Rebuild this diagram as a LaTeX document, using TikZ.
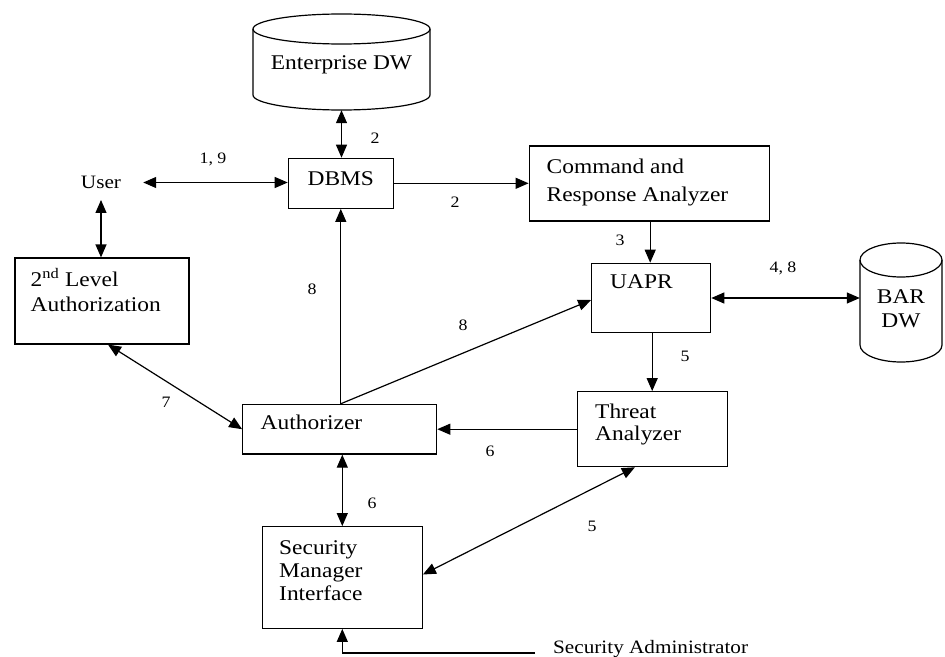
\documentclass[tikz,border=0pt]{standalone}
\usepackage{fontspec}
\setmainfont{Liberation Serif}[FakeStretch=1.12]
\usetikzlibrary{arrows.meta,calc}
\newcommand\bxfont{\fontsize{21}{24}\selectfont}
\newcommand\lbfont{\fontsize{16}{18}\selectfont}
\newcommand\smfont{\fontsize{19}{22}\selectfont}
\begin{document}
\begin{tikzpicture}[x=1bp,y=-1bp,
  every node/.style={inner sep=0pt},
  ln/.style={line width=1.2bp},
  box/.style={draw, line width=1.2bp},
  bx/.style={font=\bxfont},
  num/.style={font=\lbfont},
  tip/.tip={Triangle[length=13bp,width=11bp]},
  arr/.style={ln, -tip},
  darr/.style={ln, tip-tip}]
\fill[white] (0,0) rectangle (945,657);
\useasboundingbox (0,0) rectangle (945,657);

% Enterprise DW cylinder
\draw[ln] (253,29) -- (253,95) arc[start angle=180,end angle=360,x radius=88.5bp,y radius=15bp] -- (430,29);
\draw[ln] (341.5,29) ellipse [x radius=88.5bp,y radius=15bp];
\node[bx, minimum width=177bp, minimum height=90bp] (edw) at (341.5,65) {Enterprise DW};

% BAR DW cylinder
\draw[ln] (860,260) -- (860,345) arc[start angle=180,end angle=360,x radius=41bp,y radius=17bp] -- (942,260);
\draw[ln] (901,260) ellipse [x radius=41bp,y radius=17bp];
\node[bx, align=center, minimum width=82bp, minimum height=100bp] (bar) at (901,309) {BAR\\DW};

% boxes
\node[box, bx, minimum width=105bp, minimum height=50bp, text height=14bp, text depth=9bp] (dbms) at (340.8,183.3) {DBMS};
\node[box, minimum width=240bp, minimum height=75bp] (cra) at (649.2,183.5) {};
\node[bx, align=left, anchor=west, font=\fontsize{21}{28}\selectfont] (crat) at (546.5,182.8) {Command and\\Response Analyzer};
\node[box, minimum width=119bp, minimum height=69.4bp] (uapr) at (651.2,298) {};
\node[bx, anchor=west] (uaprt) at (610,281.7) {UAPR};
\node[box, minimum width=150.4bp, minimum height=75bp] (ta) at (652.5,429.2) {};
\node[bx, align=left, anchor=west, font=\fontsize{21}{21.7}\selectfont] (tat) at (595,424.5) {Threat\\Analyzer};
\node[box, minimum width=194bp, minimum height=49.7bp] (auth) at (339.7,429.2) {};
\node[bx, anchor=west] (autht) at (260.5,422) {Authorizer};
\node[box, minimum width=160bp, minimum height=101.6bp] (smi) at (342.3,577.5) {};
\node[bx, align=left, anchor=west, font=\fontsize{21}{23}\selectfont] (smit) at (279,571) {Security\\Manager\\Interface};
\node[box, minimum width=174bp, minimum height=86bp] (lvl2) at (102,301) {};
\node[bx, align=left, anchor=west, font=\fontsize{21}{25}\selectfont] (lvl2t) at (30.5,290) {2\textsuperscript{nd} Level\\Authorization};

% User and Security Administrator
\node[font=\smfont, inner xsep=22bp, inner ysep=11bp] (user) at (101,182.5) {User};
\node[font=\smfont, anchor=base west, inner xsep=18bp] (sa) at (535,653) {Security Administrator};

% connectors
\draw[darr] (edw.south) -- (edw.south |- dbms.north);
\draw[darr] (user.east) -- (user.east -| dbms.west);
\draw[darr] (user.south) -- (user.south |- lvl2.north);
\draw[arr] (dbms.east) -- (dbms.east -| cra.west);
\coordinate (c3) at ($(cra.south)+(1,0)$);
\draw[arr] (c3) -- (c3 |- uapr.north);
\draw[darr] (uapr.east) -- (uapr.east -| bar.west);
\coordinate (c5) at ($(uapr.south)+(1,0)$);
\draw[arr] (c5) -- (c5 |- ta.north);
\draw[arr] (ta.west) -- (ta.west -| auth.east);
\draw[darr] (smi.north) -- (smi.north |- auth.south);
\coordinate (ap) at (dbms.south |- auth.north);
\draw[arr] (ap) -- (dbms.south);
\draw[arr] (ap) -- ($(uapr.west)+(0,2)$);
\draw[darr] ($(ta.south west)!0.384!(ta.south east)$) -- ($(smi.east)+(0,-3)$);
\draw[darr] ($(lvl2.south)+(6,0)$) -- (auth.west);
\draw[arr] (sa.base west) -| (smi.south);

% labels
\node[num] (l1) at (375,138) {2};
\node[num] (l2) at (213,159) {1, 9};
\node[num] (l3) at (455,202) {2};
\node[num] (l4) at (620,240) {3};
\node[num] (l5) at (783,268) {4, 8};
\node[num] (l6) at (685,356) {5};
\node[num] (l7) at (312,289) {8};
\node[num] (l8) at (463,325) {8};
\node[num] (l9) at (166,402) {7};
\node[num] (l10) at (490,451) {6};
\node[num] (l11) at (372,503) {6};
\node[num] (l12) at (592,526) {5};
\end{tikzpicture}
\end{document}
